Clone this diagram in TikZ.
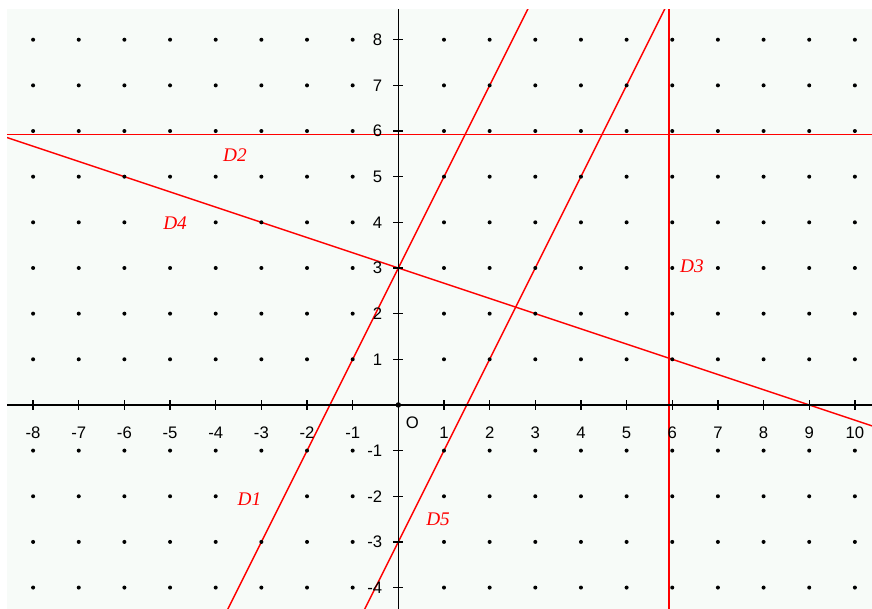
\documentclass[tikz,border=0pt]{standalone}
\usepackage{fontspec}
\setmainfont{Liberation Serif}
\setsansfont{Liberation Sans}
\usepackage{xcolor}
\definecolor{fundo}{RGB}{247,251,248}
\definecolor{vermelho}{RGB}{255,0,0}
\tikzset{
    reta/.style={draw=vermelho, line width=0.9pt},
    eixo/.style={draw=black, line width=0.85pt},
    rotulo/.style={text=vermelho, fill=fundo, font=\fontsize{12}{14}\selectfont\itshape, inner sep=0.5pt, minimum width=0.64cm},
    numero/.style={font=\sffamily\fontsize{10.4}{12}\selectfont, inner sep=0pt}
}

\begin{document}
\begin{tikzpicture}
    \useasboundingbox (-8.725,-4.465) rectangle (10.375,8.87);
    \fill[fundo] (-8.57,-4.465) rectangle (10.375,8.67);
    % retas
    \begin{scope}
        \clip (-8.57,-4.465) rectangle (10.375,8.67);
        \draw[reta] (-4,-5) -- (3,9);
        \draw[reta] (-1,-5) -- (6,9);
        \draw[reta] (-9,5.92) -- (11,5.92);
        \draw[reta] (5.93,-5) -- (5.93,9);
        \draw[reta] (-9,6) -- (11,-2/3);
    \end{scope}
    % eixos
    \draw[eixo] (-8.57,0) -- (10.375,0);
    \draw[eixo] (0,-4.465) -- (0,8.67);
    \foreach \x in {-8,...,-1,1,2,...,10}
        \draw[eixo] (\x,-0.11) -- (\x,0.11) node[numero] (gx\x) at (\x,-0.6) {\x};
    \foreach \y in {-4,...,-1,1,2,...,8}
        \draw[eixo] (-0.11,\y) -- (0.11,\y) node[numero, anchor=east] (gy\y) at (-0.34,\y) {\y};
    \node[numero] (origem) at (0.31,-0.39) {O};
    % pontos da grelha
    \foreach \x in {-8,...,10} {
        \foreach \y in {-4,...,8} {
            \ifnum\x=0 \else \ifnum\y=0 \else \fill (\x,\y) circle (1.25pt); \fi\fi
        }
    }
    \fill (0,0) circle (1.7pt);
    \node[rotulo] (d1) at (-3.26,-2.06) {D1};
    \node[rotulo] (d2) at (-3.58,5.48) {D2};
    \node[rotulo] (d3) at (6.43,3.03) {D3};
    \node[rotulo] (d4) at (-4.89,3.99) {D4};
    \node[rotulo] (d5) at (0.87,-2.5) {D5};
\end{tikzpicture}
\end{document}
